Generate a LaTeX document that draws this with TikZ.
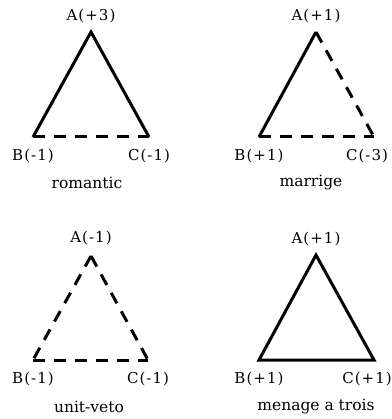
\documentclass[tikz,border=0pt]{standalone}
\usepackage{fontspec}
\setmainfont{DejaVu Serif}
\newfontfamily\vfont[LetterSpace=7]{DejaVu Serif}
\usetikzlibrary{positioning}
\tikzset{
    vlabel/.style={
        inner sep=0pt,
        font=\vfont\fontsize{15}{18}\selectfont
    },
    namelabel/.style={
        inner sep=0pt,
        font=\fontsize{15.5}{18}\selectfont
    },
    % balance edges
    posline/.style={
        line width=3pt,
        line join=miter
    },
    negline/.style={
        line width=3pt,
        dash pattern=on 12pt off 9pt
    },
}

\begin{document}
\begin{tikzpicture}[x=1pt, y=-1pt]
    \useasboundingbox (0,0) rectangle (391,419);

    % romantic
    \coordinate (a1) at (91,32);
    \coordinate (b1) at (33,137);
    \coordinate (c1) at (149,137);
    \node[vlabel, above=9pt of a1] (la1) {A(+3)};
    \node[vlabel, below=12pt of b1] (lb1) {B(-1)};
    \node[vlabel, below=12pt of c1] (lc1) {C(-1)};
    \node[namelabel] (n1) at (87,183) {romantic};
    \draw[posline] (b1) -- (a1) -- (c1);
    \draw[negline] (b1) -- (c1);

    % marrige
    \coordinate (a2) at (316,32);
    \coordinate (b2) at (259,137);
    \coordinate (c2) at (374,137);
    \node[vlabel, above=9pt of a2] (la2) {A(+1)};
    \node[vlabel, below=12pt of b2] (lb2) {B(+1)};
    \node[vlabel, below=12pt of c2, xshift=-7pt] (lc2) {C(-3)};
    \node[namelabel] (n2) at (311,183) {marrige};
    \draw[posline] (b2) -- (a2);
    \draw[negline] (a2) -- (c2);
    \draw[negline] (b2) -- (c2);

    % unit-veto
    \coordinate (a3) at (91,256);
    \coordinate (b3) at (33,360);
    \coordinate (c3) at (148,360);
    \node[vlabel, above=11pt of a3] (la3) {A(-1)};
    \node[vlabel, below=12pt of b3] (lb3) {B(-1)};
    \node[vlabel, below=12pt of c3] (lc3) {C(-1)};
    \node[namelabel] (n3) at (89,407) {unit-veto};
    \draw[negline] (a3) -- (b3);
    \draw[negline] (a3) -- (c3);
    \draw[negline] (b3) -- (c3);

    % menage a trois
    \coordinate (a4) at (316,255);
    \coordinate (b4) at (259,360);
    \coordinate (c4) at (374,360);
    \node[vlabel, above=9pt of a4] (la4) {A(+1)};
    \node[vlabel, below=12pt of b4] (lb4) {B(+1)};
    \node[vlabel, below=12pt of c4, xshift=-7pt] (lc4) {C(+1)};
    \node[namelabel] (n4) at (316,407) {menage a trois};
    \draw[posline] (a4) -- (b4) -- (c4) -- cycle;
\end{tikzpicture}
\end{document}
